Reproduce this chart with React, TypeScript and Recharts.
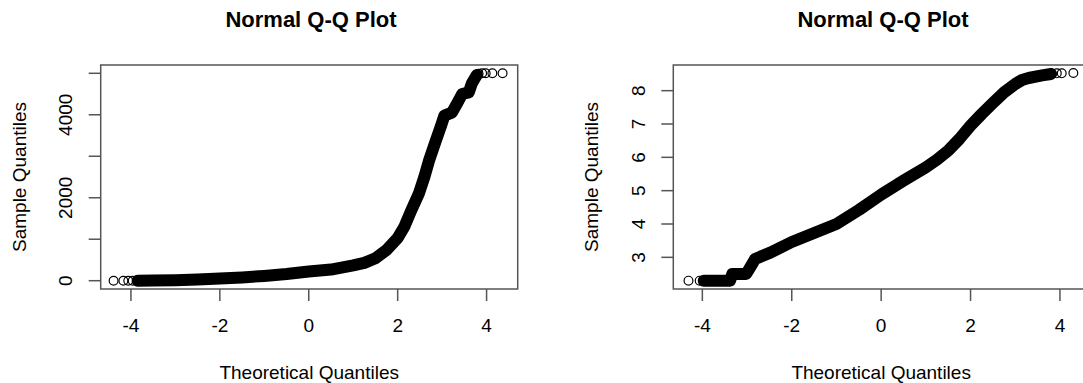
import { ComposedChart, Line, Scatter, XAxis, YAxis, ReferenceArea, Label } from "recharts";

type Pt = { x: number; y: number };

const FONT = '"Liberation Sans", Arial, Helvetica, sans-serif';
const AXIS = "#555";

const xTicks = [-4, -2, 0, 2, 4];

// left panel: strongly skewed sample
const skewTicks = [0, 1000, 2000, 3000, 4000, 5000];
const skewTickLabels = ["0", "", "2000", "", "4000", ""];
const skewBandX = [-3.85, -3.5, -3.0, -2.5, -2.0, -1.5, -1.0, -0.5, 0, 0.5, 1.0, 1.25, 1.5, 1.75, 2.0, 2.15, 2.3, 2.48, 2.6, 2.71, 2.85, 2.97, 3.05, 3.22, 3.35, 3.45, 3.6, 3.67, 3.78];
const skewBandY = [0, 5, 12, 30, 55, 80, 115, 160, 220, 268, 370, 430, 540, 740, 1030, 1300, 1680, 2110, 2500, 2910, 3350, 3715, 3980, 4050, 4300, 4500, 4540, 4760, 4960];
const skewTailX = [-4.39, -4.17, -4.06, -3.96, 3.82, 3.9, 3.98, 4.13, 4.36];
const skewTailY = [0, 0, 0, 0, 4990, 5000, 5000, 5000, 5000];

// right panel: closer to normal
const evenTicks = [3, 4, 5, 6, 7, 8];
const evenTickLabels = ["3", "4", "5", "6", "7", "8"];
const evenBandX = [-3.97, -3.38, -3.33, -3.02, -2.92, -2.82, -2.7, -2.48, -2.0, -1.5, -1.0, -0.5, 0, 0.5, 1.0, 1.25, 1.5, 1.75, 2.0, 2.25, 2.5, 2.75, 3.0, 3.15, 3.3, 3.6, 3.8];
const evenBandY = [2.3, 2.3, 2.5, 2.5, 2.72, 2.95, 3.02, 3.14, 3.46, 3.73, 4.0, 4.42, 4.88, 5.3, 5.7, 5.93, 6.2, 6.55, 6.95, 7.3, 7.63, 7.95, 8.2, 8.32, 8.38, 8.46, 8.5];
const evenTailX = [-4.31, -4.06, -3.97, 3.82, 3.93, 4.04, 4.3];
const evenTailY = [2.3, 2.3, 2.3, 8.51, 8.52, 8.52, 8.53];

const zip = (xs: number[], ys: number[]): Pt[] => xs.map((x, i) => ({ x, y: ys[i] }));

const XTick = (p: any) => (
  <text x={p.x} y={p.y + 31} textAnchor="middle" fontSize={19} fontFamily={FONT} fill="#000">
    {String(p.payload.value)}
  </text>
);

const makeYTick = (ticks: number[], labels: string[]) => (p: any) => {
  const bx = p.x - 16.5;
  const txt = labels[ticks.indexOf(p.payload.value)] ?? "";
  return (
    <text x={bx} y={p.y} transform={`rotate(-90 ${bx} ${p.y})`} textAnchor="middle"
      fontSize={19} fontFamily={FONT} fill="#000">
      {txt}
    </text>
  );
};

const OpenCircle = (p: any) => (
  <circle cx={p.cx} cy={p.cy} r={4.4} fill="none" stroke="#000" strokeWidth={1.2} />
);

interface PanelProps {
  left: number;
  width: number;
  plotLeft: number;
  plotWidth: number;
  titleCenter: number;
  xDomain: [number, number];
  yDomain: [number, number];
  yTicks: number[];
  yLabels: string[];
  band: Pt[];
  tails: Pt[];
}

function QQPanel(props: PanelProps) {
  const { left, width, plotLeft, plotWidth, titleCenter, xDomain, yDomain, yTicks, yLabels, band, tails } = props;
  const yAxisW = 60;
  const xAxisH = 60;
  return (
    <div style={{ position: "absolute", left, top: 0, width, height: 383 }}>
      <div style={{
        position: "absolute", left: titleCenter - 200, width: 400, top: 9, textAlign: "center",
        fontFamily: FONT, fontWeight: "bold", fontSize: 22, lineHeight: "22px", color: "#000",
      }}>
        Normal Q-Q Plot
      </div>
      <ComposedChart
        width={width}
        height={383}
        margin={{ top: 65, bottom: 383 - 289 - xAxisH, left: plotLeft - yAxisW, right: width - plotLeft - plotWidth }}
      >
        <XAxis
          type="number"
          dataKey="x"
          domain={xDomain}
          ticks={xTicks}
          interval={0}
          allowDataOverflow
          axisLine={false}
          tickLine={{ stroke: AXIS, strokeWidth: 1.5 }}
          tickSize={12}
          tickMargin={0}
          height={xAxisH}
          tick={XTick}
        >
          <Label
            content={(lp: any) => {
              const vb = lp.viewBox;
              return (
                <text x={vb.x + vb.width / 2} y={vb.y + 90} textAnchor="middle" fontSize={19} fontFamily={FONT} fill="#000">
                  Theoretical Quantiles
                </text>
              );
            }}
          />
        </XAxis>
        <YAxis
          type="number"
          dataKey="y"
          domain={yDomain}
          ticks={yTicks}
          interval={0}
          allowDataOverflow
          axisLine={false}
          tickLine={{ stroke: AXIS, strokeWidth: 1.5 }}
          tickSize={12}
          tickMargin={0}
          width={yAxisW}
          tick={makeYTick(yTicks, yLabels)}
        >
          <Label
            content={(lp: any) => {
              const vb = lp.viewBox;
              const bx = vb.x + vb.width - 75;
              const cy = vb.y + vb.height / 2;
              return (
                <text x={bx} y={cy} transform={`rotate(-90 ${bx} ${cy})`} textAnchor="middle"
                  fontSize={19} fontFamily={FONT} fill="#000">
                  Sample Quantiles
                </text>
              );
            }}
          />
        </YAxis>
        <Line
          data={band}
          dataKey="y"
          type="linear"
          stroke="#000"
          strokeWidth={12}
          strokeLinecap="round"
          strokeLinejoin="round"
          dot={false}
          activeDot={false}
          isAnimationActive={false}
        />
        <Scatter data={tails} dataKey="y" shape={OpenCircle} isAnimationActive={false} />
        <ReferenceArea
          x1={xDomain[0]}
          x2={xDomain[1]}
          y1={yDomain[0]}
          y2={yDomain[1]}
          fill="none"
          stroke={AXIS}
          strokeWidth={1.5}
          ifOverflow="visible"
        />
      </ComposedChart>
    </div>
  );
}

export default function App() {
  return (
    <div style={{ position: "fixed", left: 0, top: 0, width: 1083, height: 383, overflow: "hidden", background: "#fff" }}>
      <QQPanel
        left={0}
        width={541}
        plotLeft={100.7}
        plotWidth={417}
        titleCenter={311}
        xDomain={[-4.68, 4.7]}
        yDomain={[-200, 5200]}
        yTicks={skewTicks}
        yLabels={skewTickLabels}
        band={zip(skewBandX, skewBandY)}
        tails={zip(skewTailX, skewTailY)}
      />
      <QQPanel
        left={541}
        width={560}
        plotLeft={132.3}
        plotWidth={415.7}
        titleCenter={342}
        xDomain={[-4.65, 4.65]}
        yDomain={[2.05, 8.77]}
        yTicks={evenTicks}
        yLabels={evenTickLabels}
        band={zip(evenBandX, evenBandY)}
        tails={zip(evenTailX, evenTailY)}
      />
    </div>
  );
}
